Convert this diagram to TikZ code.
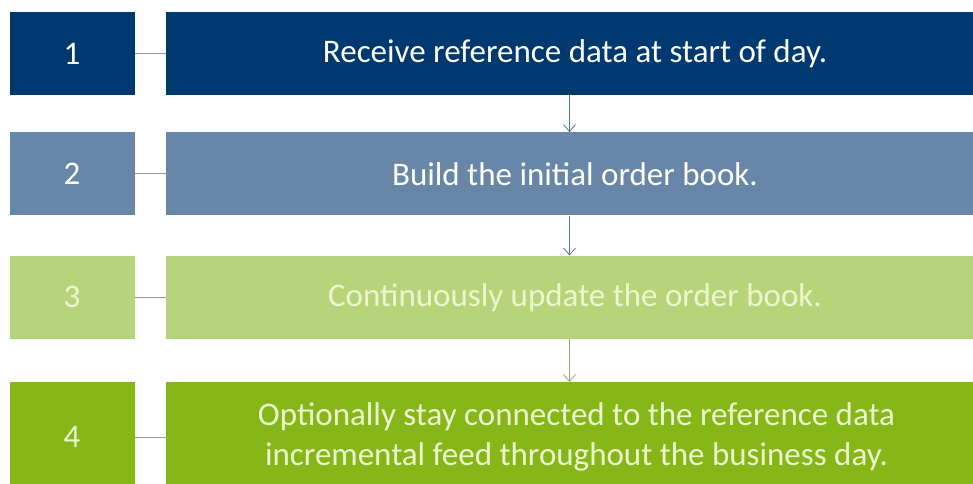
\documentclass[tikz,border=0pt]{standalone}
\usepackage{fontspec}
\setmainfont{Carlito}
\usetikzlibrary{positioning, arrows.meta}
\definecolor{rowone}{RGB}{0,56,112}
\definecolor{rowtwo}{RGB}{104,134,168}
\definecolor{rowthree}{RGB}{184,212,122}
\definecolor{rowfour}{RGB}{134,182,24}
\definecolor{paletext}{RGB}{236,246,206}
\begin{document}
\begin{tikzpicture}[x=1pt, y=-1pt]
        % Style des noeuds
        \tikzstyle{stepbox} = [rectangle, minimum width=807pt, minimum height=83pt, text centered, inner sep=0pt, font=\fontsize{33}{40}\selectfont]
        \tikzstyle{numbox} = [rectangle, minimum width=125pt, minimum height=83pt, text centered, inner sep=0pt, font=\fontsize{33}{40}\selectfont]
        \tikzstyle{link} = [line width=1pt, draw=gray!80]
        \tikzstyle{arrow} = [line width=0.8pt, -{Straight Barb[length=7pt, width=12pt, line width=0.8pt]}]

        \useasboundingbox (0,0) rectangle (973,483);

        % Etapes
        \node (receive) [stepbox, fill=rowone, text=white] at (569.5,53.5) {\hspace*{11pt}Receive reference data at start of day.};
        \node (build) [stepbox, fill=rowtwo, text=white, below=37pt of receive] {\hspace*{11pt}Build the initial order book.};
        \node (update) [stepbox, fill=rowthree, text=paletext, below=40pt of build] {\hspace*{11pt}Continuously update the order book.};
        \node (connect) [stepbox, fill=rowfour, text=paletext, minimum height=110pt, below=43pt of update, align=center] {\hspace*{14pt}Optionally stay connected to the reference data\\\hspace*{14pt}incremental feed throughout the business day.};

        % Numeros
        \node (one) [numbox, fill=rowone, text=white, left=31pt of receive] {1};
        \node (two) [numbox, fill=rowtwo, text=white, left=31pt of build] {2};
        \node (three) [numbox, fill=rowthree, text=paletext, left=31pt of update] {3};
        \node (four) [numbox, fill=rowfour, text=paletext, minimum height=110pt, left=31pt of connect] {4};

        % Liens
        \draw [link] (one) -- (receive);
        \draw [link] (two) -- (build);
        \draw [link] (three) -- (update);
        \draw [link] (four) -- (connect);

        % Fleches
        \draw [arrow, draw=rowone!70] (receive) -- (build);
        \draw [arrow, draw=rowtwo!90!black] (build) -- (update);
        \draw [arrow, draw=rowthree!80!black] (update) -- (connect);
    \end{tikzpicture}
\end{document}
